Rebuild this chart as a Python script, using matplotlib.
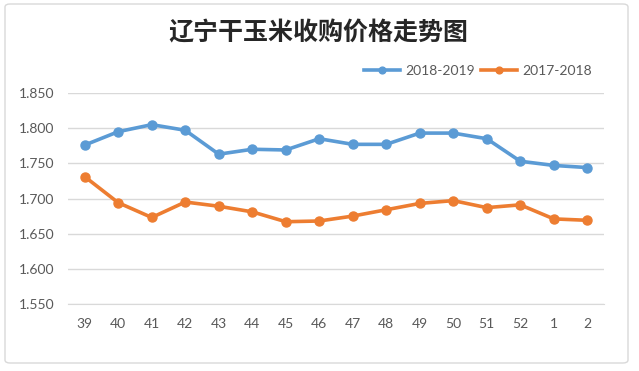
import numpy as np
import matplotlib.pyplot as plt
from matplotlib.patches import FancyBboxPatch

WEEKS = ["39", "40", "41", "42", "43", "44", "45", "46", "47", "48", "49", "50", "51", "52", "1", "2"]
PRICE_1819 = [1.776, 1.795, 1.805, 1.797, 1.763, 1.770, 1.769, 1.785, 1.777, 1.777,
              1.793, 1.793, 1.785, 1.753, 1.747, 1.744]
PRICE_1718 = [1.731, 1.694, 1.673, 1.695, 1.689, 1.681, 1.667, 1.668, 1.675, 1.684,
              1.693, 1.697, 1.687, 1.691, 1.671, 1.669]
Y_TICKS = [1.55, 1.60, 1.65, 1.70, 1.75, 1.80, 1.85]

BLUE = "#5B9BD5"
ORANGE = "#ED7D31"
GRID = "#D9D9D9"
TEXT = "#595959"

plt.rcParams["font.family"] = ["Lato", "DejaVu Sans"]

fig = plt.figure(figsize=(6.39, 3.71), dpi=100)
# The chart frame sits under everything else.
fig.patches.append(FancyBboxPatch((5 / 639, 8 / 371), 623 / 639, 359 / 371,
                                  boxstyle="round,pad=0,rounding_size=0.008",
                                  transform=fig.transFigure, facecolor="white",
                                  edgecolor="#D9D9D9", linewidth=1.0, zorder=-10))

ax = fig.add_axes([68 / 639, 1 - 304 / 371, 536 / 639, 211 / 371])
ax.set_facecolor("none")
x = np.arange(len(WEEKS))

for series, colour, label in ((PRICE_1819, BLUE, "2018-2019"), (PRICE_1718, ORANGE, "2017-2018")):
    ax.plot(x, series, color=colour, lw=2.6, marker="o", markersize=6.5,
            markeredgecolor=colour, label=label, zorder=3)

ax.set_xlim(-0.5, len(WEEKS) - 0.5)
ax.set_ylim(1.55, 1.85)
ax.set_yticks(Y_TICKS)
ax.set_yticklabels([f"{v:.3f}" for v in Y_TICKS])
ax.set_xticks(x)
ax.set_xticklabels(WEEKS)
ax.grid(axis="y", color=GRID, lw=1.0)
ax.set_axisbelow(True)
for side in ("left", "right", "top"):
    ax.spines[side].set_visible(False)
ax.spines["bottom"].set_color(GRID)
ax.tick_params(axis="both", length=0, colors=TEXT, labelsize=10)
ax.tick_params(axis="y", pad=10)
ax.tick_params(axis="x", pad=10)

fig.text(318 / 639, 1 - 33 / 371, "辽宁干玉米收购价格走势图", ha="center", va="center",
         fontsize=18, fontweight="bold", color="#262626",
         family=["Noto Sans CJK SC", "DejaVu Sans"])

fig.legend(loc="center right", bbox_to_anchor=(592 / 639, 1 - 71 / 371), ncol=2,
           frameon=False, fontsize=10, labelcolor=TEXT, handlelength=2.6,
           handletextpad=0.4, columnspacing=0.4, borderaxespad=0, borderpad=0,
           markerscale=0.75)

fig.savefig("out.png", dpi=100)
